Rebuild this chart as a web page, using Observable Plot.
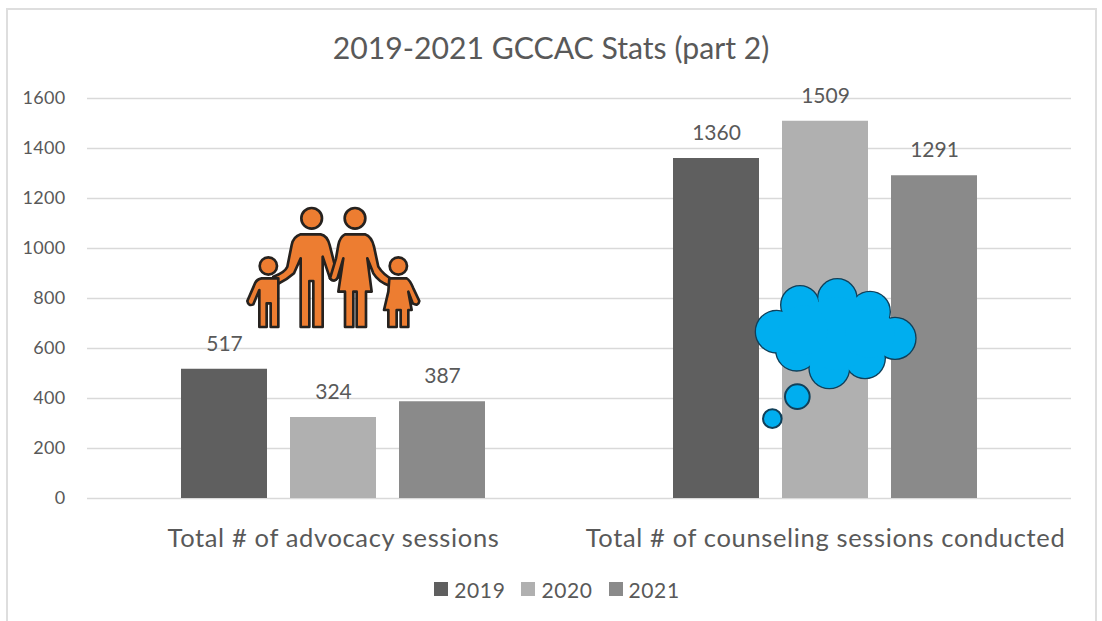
<!DOCTYPE html>
<html>
<head>
<meta charset="utf-8">
<script src="https://cdn.jsdelivr.net/npm/d3@7"></script>
<script src="https://cdn.jsdelivr.net/npm/@observablehq/plot@0.6"></script>
<style>
  html, body { margin: 0; padding: 0; background: #fff; }
  body { width: 1102px; height: 621px; overflow: hidden; position: relative; font-family: Lato, "Open Sans", sans-serif; color: #595959; }
  #frame { position: absolute; left: 6px; top: 8px; width: 1087px; height: 620px; border: 2px solid #dedede; pointer-events: none; }
  #title { height: 75px; box-sizing: border-box; padding-top: 27px; text-align: center; font-size: 30.2px; line-height: 40px; }
  #chart svg { display: block; }
  #chart svg g[aria-label="fx-axis tick label"] text { letter-spacing: .65px; }
  #chart svg g[aria-label="y-axis tick label"] text { letter-spacing: .3px; }
  #legend { display: flex; justify-content: center; align-items: center; height: 30px; margin-top: 16px; padding-left: 12px; font-size: 21px; letter-spacing: .6px; }
  #legend span.item { display: flex; align-items: center; margin: 0 8px; }
  #legend i { display: inline-block; width: 14px; height: 14px; margin-right: 6px; }
</style>
</head>
<body>
<div id="frame"></div>
<div id="title">2019-2021 GCCAC Stats (part 2)</div>
<div id="chart"></div>
<div id="legend"></div>
<script>
const categories = ["Total # of advocacy sessions", "Total # of counseling sessions conducted"];
const years = ["2019", "2020", "2021"];
const values2019 = [517, 1360];
const values2020 = [324, 1509];
const values2021 = [387, 1291];
const yearColors = ["#5f5f5f", "#b0b0b0", "#8a8a8a"];
const yTicks = [0, 200, 400, 600, 800, 1000, 1200, 1400, 1600];

const series = [values2019, values2020, values2021];
const rows = years.flatMap((year, i) =>
  categories.map((category, j) => ({category, year, value: series[i][j]}))
);

const chart = Plot.plot({
  width: 1102,
  height: 483,
  marginLeft: 86,
  marginRight: 31,
  marginTop: 23,
  marginBottom: 60,
  style: {background: "transparent", color: "#595959", fontFamily: "Lato, 'Open Sans', sans-serif"},
  fx: {domain: categories, padding: 0, label: null},
  x: {domain: years, paddingInner: 0.215, paddingOuter: 0.857, axis: null},
  y: {domain: [0, 1600], label: null, axis: null},
  color: {domain: years, range: yearColors},
  marks: [
    Plot.gridY(yTicks, {stroke: "#d9d9d9", strokeOpacity: 1, strokeWidth: 1.6}),
    Plot.axisY({ticks: yTicks, anchor: "left", tickSize: 0, tickPadding: 22, fontSize: 18, label: null, tickFormat: d => String(d)}),
    Plot.axisFx({anchor: "bottom", tickSize: 0, tickPadding: 30, fontSize: 25.5, label: null}),
    Plot.barY(rows, {fx: "category", x: "year", y: "value", fill: "year"}),
    Plot.text(rows, {fx: "category", x: "year", y: "value", text: d => String(d.value), dy: -25, fontSize: 21, fill: "#595959"})
  ]
});
document.getElementById("chart").appendChild(chart);

// Legend (HTML, under the SVG)
const legend = d3.select("#legend");
years.forEach((y, i) => {
  const it = legend.append("span").attr("class", "item");
  it.append("i").style("background", yearColors[i]);
  it.append("span").text(y);
});

// Decorative clip-art drawn on top of the chart
const svg = d3.select(chart);
const svgTop = 75;
// family
const family = svg.append("g")
  .attr("transform", `translate(230,${195 - svgTop}) scale(${1/3})`)
  .attr("fill", "#ed7d31").attr("stroke", "#26221f").attr("stroke-width", 8).attr("stroke-linejoin", "round");
[[245,70,31],[375,70,31],[115,213,26],[505,213,26]].forEach(([cx,cy,r]) =>
  family.append("circle").attr("cx",cx).attr("cy",cy).attr("r",r));
[
 "M212,118 L272,118 Q292,122 299,150 L318,225 L323,248 Q312,264 300,250 L278,185 L278,396 L250,396 L250,258 L238,258 L238,396 L212,396 L212,190 L192,235 Q170,255 142,268 L130,245 Q165,232 172,215 L185,150 Q190,125 212,118 Z",
 "M345,118 L405,118 Q425,125 432,155 L445,215 Q460,240 490,255 L478,272 Q445,260 430,235 L412,190 L425,290 L408,290 L408,396 L380,396 L380,290 L370,290 L370,396 L345,396 L345,290 L325,290 L340,190 L323,248 Q312,264 300,250 L318,190 L325,150 Q330,125 345,118 Z",
 "M95,250 L145,250 L145,396 L122,396 L122,325 L110,325 L110,396 L88,396 L88,285 L70,328 Q55,335 52,318 L75,265 Q80,253 95,250 Z",
 "M480,250 L530,250 Q540,255 550,280 L568,318 Q565,335 548,325 L535,290 L545,345 L535,345 L535,396 L512,396 L512,345 L500,345 L500,396 L475,396 L475,345 L462,345 L475,290 L478,250 Z"
].forEach(d => family.append("path").attr("d", d));

// thought cloud
const cloud = svg.append("g").attr("transform", `translate(740,${270 - svgTop}) scale(${1/3})`);
const puffs = [[180,105,57],[292,85,58],[390,125,60],[110,185,63],[465,205,62],[170,240,62],[268,295,60],[375,265,60],[290,190,110]];
const fillers = [[190,180,75],[390,190,75]];
const bubbles = [[172,380,37],[97,446,28]];
const col = "#00aeef", edge = "#10405a";
[...puffs, ...bubbles].forEach(([cx,cy,r]) =>
  cloud.append("circle").attr("cx",cx).attr("cy",cy).attr("r",r).attr("fill",col).attr("stroke",edge).attr("stroke-width",6));
[...puffs, ...fillers].forEach(([cx,cy,r]) =>
  cloud.append("circle").attr("cx",cx).attr("cy",cy).attr("r",r - 1).attr("fill",col));
</script>
</body>
</html>
